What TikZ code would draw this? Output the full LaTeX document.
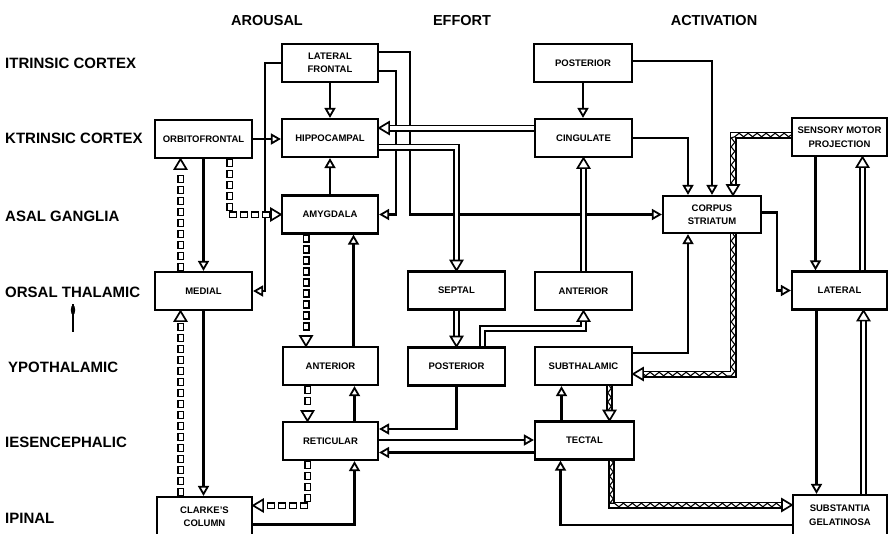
\documentclass[tikz,border=0pt]{standalone}
\usepackage{fontspec}
\setmainfont{Liberation Sans}
\usetikzlibrary{arrows.meta,decorations.markings,decorations.pathmorphing,calc}
\newcommand\bxf{\fontsize{9.5}{13.5}\selectfont\bfseries}
\newcommand\rowf{\fontsize{15}{15}\selectfont\bfseries}
\newcommand\hdf{\fontsize{14.5}{15}\selectfont\bfseries}
\begin{document}
\begin{tikzpicture}[x=1pt,y=-1pt,
  box/.style={draw, line width=2.2pt, fill=white, minimum width=96pt, minimum height=38pt, inner sep=1pt, align=center, font=\bxf},
  lab/.style={anchor=west, inner sep=0pt, font=\rowf},
  hd/.style={inner sep=0pt, font=\hdf},
  sol/.style={line width=2.2pt, -{Triangle[open, length=10pt, width=11pt, line width=1.8pt]}},
  htip/.style={postaction={decorate, decoration={markings, mark=at position 1 with {\draw[black, line width=1.7pt, fill=white, line join=miter] (0,0) -- (-10pt,6pt) -- (-10pt,-6pt) -- cycle;}}}},
  pipe/.style={preaction={draw=black, line width=7pt, shorten >=9pt}, draw=white, line width=3.4pt, shorten >=9pt, htip},
  zz/.style={preaction={draw=black, line width=7pt, shorten >=9pt}, draw=white, line width=3.4pt, shorten >=9pt,
     postaction={draw=black, line width=1.1pt, shorten >=10pt, decorate, decoration={zigzag, segment length=9pt, amplitude=1.8pt}}, htip},
  chain/.style={postaction={decorate, decoration={markings, mark=between positions 4pt and -14pt step 11pt with {\node[draw=black, fill=white, line width=1.5pt, minimum width=7pt, minimum height=5.5pt, inner sep=0pt, transform shape]{};}}}, htip}
]
\useasboundingbox (0,0) rectangle (888,533);
\fill[white] (0,0) rectangle (888,533);

% headers
\node[hd] (h1) at (267,21) {AROUSAL};
\node[hd] (h2) at (462,21) {EFFORT};
\node[hd] (h3) at (714,21) {ACTIVATION};

% row labels
\node[lab] (r1) at (5,63) {ITRINSIC CORTEX};
\node[lab] (r2) at (5,138) {KTRINSIC CORTEX};
\node[lab] (r3) at (5,216) {ASAL GANGLIA};
\node[lab] (r4) at (5,292) {ORSAL THALAMIC};
\node[lab] (r5) at (8,367) {YPOTHALAMIC};
\node[lab] (r6) at (5,442) {IESENCEPHALIC};
\node[lab] (r7) at (5,518) {IPINAL};
\draw[line width=2.2pt] (73,304) -- (73,332);
\fill (73,310) ellipse (2.2pt and 5pt);

% boxes
\node[box] (lf) at (330,63) {LATERAL\\FRONTAL};
\node[box, minimum width=98pt] (postT) at (583,63) {POSTERIOR};
\node[box, minimum width=97pt] (of) at (203.5,139) {ORBITOFRONTAL};
\node[box] (hip) at (330,138) {HIPPOCAMPAL};
\node[box, minimum width=97pt] (cing) at (583.5,138) {CINGULATE};
\node[box, minimum width=95pt] (smp) at (839.5,137) {SENSORY MOTOR\\PROJECTION};
\node[box] (amy) at (330,214.5) {AMYGDALA};
\node[box, minimum width=98pt, minimum height=37pt] (cs) at (712,214.5) {CORPUS\\STRIATUM};
\node[box, minimum width=97pt] (med) at (203.5,291) {MEDIAL};
\node[box, minimum width=97pt] (sep) at (456.5,290.5) {SEPTAL};
\node[box, minimum width=97pt] (antM) at (583.5,291) {ANTERIOR};
\node[box, minimum width=95pt] (lat) at (839.5,290.5) {LATERAL};
\node[box, minimum width=95pt] (antA) at (330.5,366) {ANTERIOR};
\node[box, minimum width=97pt] (postE) at (456.5,366.5) {POSTERIOR};
\node[box, minimum width=97pt] (sub) at (583.5,366) {SUBTHALAMIC};
\node[box, minimum width=95pt] (ret) at (330.5,441) {RETICULAR};
\node[box, minimum width=99pt] (tec) at (584.5,440.5) {TECTAL};
\node[box, minimum width=95pt, minimum height=39pt] (cc) at (204.5,516.5) {CLARKE'S\\COLUMN};
\node[box, minimum width=94pt, minimum height=40pt] (sg) at (840,515) {SUBSTANTIA\\GELATINOSA};

% solid connectors
\draw[sol] (lf.south) -- (hip.north);
\draw[sol] (lf.west) -- ++(-16,0) |- (med.east);
\draw[sol] (of.east) -- (of.east -| hip.west);
\draw[sol] ([yshift=-8pt]lf.east) -- ++(17,0) |- (amy.east);
\draw[sol] ([yshift=11pt]lf.east) -- ++(31,0) |- (cs.west);
\draw[sol] (postT.south) -- (postT.south |- cing.north);
\draw[sol] ([yshift=2pt]postT.east) -| (cs.north);
\draw[sol] (cing.east) -| ([xshift=-24pt]cs.north);
\draw[sol] ([yshift=2pt]cs.east) -- ++(15,0) |- (lat.west);
\draw[sol] ([xshift=-24pt]smp.south) -- ([xshift=-24pt]smp.south |- lat.north);
\draw[sol] ([xshift=-23pt]lat.south) -- ([xshift=-23pt]lat.south |- sg.north);
\draw[sol] ([yshift=13pt]sub.east) -| ([xshift=-24pt]cs.south);
\draw[sol] (postE.south) |- ([yshift=12pt]ret.east);
\draw[sol] ([yshift=1pt]ret.east) -- ([yshift=1pt]ret.east -| tec.west);
\draw[sol] ([yshift=-12pt]tec.west) -- ([yshift=-12pt]tec.west -| ret.east);
\draw[sol] ([xshift=-23pt]tec.north) -- ([xshift=-23pt]tec.north |- sub.south);
\draw[sol] ([yshift=-10pt]sg.west) -| ([xshift=-24pt]tec.south);
\draw[sol] ([yshift=-8pt]cc.east) -| ([xshift=24pt]ret.south);
\draw[sol] ([xshift=24pt]ret.north) -- ([xshift=24pt]ret.north |- antA.south);
\draw[sol] ([xshift=23pt]antA.north) -- ([xshift=23pt]antA.north |- amy.south);
\draw[sol] (amy.north) -- (hip.south);
\draw[sol] (of.south) -- (of.south |- med.north);
\draw[sol] (med.south) -- (med.south |- cc.north);

% chains of small boxes
\path[chain] ([xshift=-23pt]med.north) -- ([xshift=-23pt]med.north |- of.south);
\path[chain] ([xshift=26pt]of.south) |- (amy.west);
\path[chain] ([xshift=-23pt]med.south |- cc.north) -- ([xshift=-23pt]med.south);
\path[chain] ([xshift=-24pt]amy.south) -- ([xshift=-24pt]amy.south |- antA.north);
\path[chain] ([xshift=-23pt]antA.south) -- ([xshift=-23pt]antA.south |- ret.north);
\path[chain] ([xshift=-23pt]ret.south) |- ([yshift=11pt]cc.east);

% pipes
\draw[pipe] ([yshift=10pt]cing.west) -- ([yshift=10pt]hip.east);
\draw[pipe] ([yshift=-9pt]hip.east) -| (sep.north);
\draw[pipe] (antM.north) -- (cing.south);
\draw[pipe] (sep.south) -- (postE.north);
\draw[pipe] ([xshift=26pt]postE.north) -- ++(0,-18) -| (antM.south);
\draw[pipe] ([xshift=23pt]lat.north) -- ([xshift=23pt]lat.north |- smp.south);
\draw[pipe] ([xshift=24pt]lat.south |- sg.north) -- ([xshift=24pt]lat.south);

% zigzag pipes
\draw[zz] ([yshift=2pt]smp.west) -| ([xshift=21pt]cs.north);
\draw[zz] ([xshift=21pt]cs.south) |- ([yshift=-8pt]sub.east);
\draw[zz] ([xshift=26pt]sub.south) -- ([xshift=26pt]sub.south |- tec.north);
\draw[zz] ([xshift=27pt]tec.south) |- ([yshift=10pt]sg.west);
\end{tikzpicture}
\end{document}
